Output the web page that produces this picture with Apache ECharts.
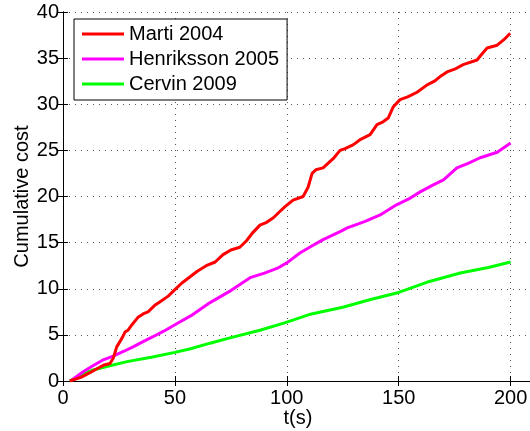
<!DOCTYPE html>
<html>
<head>
<meta charset="utf-8">
<script src="https://cdn.jsdelivr.net/npm/echarts@6/dist/echarts.min.js"></script>
<style>
  html, body { margin: 0; padding: 0; background: #fff; }
  #chart { width: 530px; height: 431px; }
</style>
</head>
<body>
<div id="chart"></div>
<script>
// Cumulative cost over time for three scheduling approaches
const seriesNames = ['Marti 2004', 'Henriksson 2005', 'Cervin 2009'];

const martiTime = [3, 8, 12, 15, 18, 21, 22.5, 24, 26.5, 27.7, 29, 30.8, 33.5, 36, 38, 41, 43.4, 47, 50, 53, 56.8, 60, 64, 68, 71.5, 75, 79, 82, 84.5, 88, 91, 94, 97, 99.2, 102.8, 107.3, 109.5, 111.3, 113, 116.2, 120.7, 123.8, 126, 129.6, 133, 137.2, 140.3, 143, 145.3, 147.5, 150.6, 154, 158.2, 162.7, 166, 168.5, 171.6, 175, 178.8, 185, 187, 189.5, 194, 197, 199.8];
const martiCost = [0, 0.4, 0.9, 1.3, 1.7, 1.9, 2.5, 3.7, 4.7, 5.3, 5.5, 6.1, 6.9, 7.3, 7.5, 8.2, 8.6, 9.2, 9.9, 10.6, 11.3, 11.9, 12.5, 12.9, 13.7, 14.2, 14.5, 15.2, 16.0, 16.9, 17.2, 17.7, 18.4, 18.9, 19.6, 20.0, 21.0, 22.5, 22.9, 23.1, 24.1, 25.0, 25.2, 25.6, 26.2, 26.7, 27.8, 28.1, 28.5, 29.7, 30.5, 30.8, 31.3, 32.1, 32.5, 33.0, 33.5, 33.8, 34.3, 34.8, 35.4, 36.1, 36.4, 37.0, 37.7];

const henrikssonTime = [4, 9, 13, 18, 22.4, 27, 31.3, 36, 40.2, 45, 50, 58, 65.7, 75, 83.6, 90, 95.6, 100, 106, 111, 116, 123.8, 127, 135, 141.7, 149, 155, 159.6, 165, 170, 176, 181, 186.4, 194, 200];
const henrikssonCost = [0.1, 1.0, 1.6, 2.3, 2.7, 3.2, 3.7, 4.3, 4.8, 5.4, 6.1, 7.2, 8.5, 9.8, 11.2, 11.7, 12.2, 12.8, 13.9, 14.6, 15.3, 16.2, 16.6, 17.3, 18.0, 19.1, 19.8, 20.5, 21.2, 21.8, 23.1, 23.6, 24.2, 24.8, 25.8];

const cervinTime = [3, 7.6, 13.4, 20, 28.6, 40, 50, 57, 65.7, 75, 88, 99, 110, 125, 137, 150, 162.5, 177.5, 190, 200];
const cervinCost = [0, 0.6, 1.2, 1.6, 2.1, 2.6, 3.1, 3.5, 4.1, 4.7, 5.5, 6.3, 7.2, 8.0, 8.8, 9.6, 10.7, 11.7, 12.3, 12.9];

const xTicks = [0, 50, 100, 150, 200];
const yTicks = [0, 5, 10, 15, 20, 25, 30, 35, 40];

const colors = ['#ff0000', '#ff00ff', '#00ff00'];
const FONT = '"Liberation Sans", Arial, Helvetica, sans-serif';

function pairs(xs, ys) {
  return xs.map((x, i) => [x, ys[i]]);
}

const chart = echarts.init(document.getElementById('chart'), null, { renderer: 'canvas' });

const dotted = { show: true, lineStyle: { color: '#555', width: 1, type: [1, 5] } };
const tickIn = { show: true, inside: true, length: 5, lineStyle: { color: '#000', width: 1 } };
const axisLine = { show: true, lineStyle: { color: '#000', width: 1 } };

chart.setOption({
  backgroundColor: '#fff',
  animation: false,
  grid: { left: 63, top: 12, right: -3, bottom: 50, containLabel: false, outerBoundsMode: 'none' },
  legend: {
    data: seriesNames,
    orient: 'vertical',
    left: 74,
    top: 19,
    padding: [5, 8, 6, 8],
    itemGap: 5,
    itemWidth: 42,
    itemHeight: 3,
    icon: 'rect',
    backgroundColor: '#fff',
    borderColor: '#000',
    borderWidth: 1,
    borderRadius: 0,
    textStyle: { fontFamily: FONT, fontSize: 20, color: '#000', padding: [0, 0, 0, 0], lineHeight: 20 }
  },
  xAxis: [
    {
      type: 'value',
      min: xTicks[0],
      max: 210,
      interval: xTicks[1] - xTicks[0],
      position: 'bottom',
      name: 't(s)',
      nameLocation: 'middle',
      nameGap: 27,
      nameMoveOverlap: false,
      nameTextStyle: { fontFamily: FONT, fontSize: 20, color: '#000' },
      axisLine: axisLine,
      axisTick: tickIn,
      splitLine: dotted,
      axisLabel: {
        margin: 7, fontFamily: FONT, fontSize: 20, color: '#000',
        showMaxLabel: false,
        formatter: v => (xTicks.indexOf(v) >= 0 ? String(v) : '')
      }
    },
    {
      type: 'value',
      min: xTicks[0],
      max: 210,
      interval: xTicks[1] - xTicks[0],
      position: 'top',
      axisLine: axisLine,
      axisTick: tickIn,
      splitLine: { show: false },
      axisLabel: { show: false }
    }
  ],
  yAxis: [
    {
      type: 'value',
      min: yTicks[0],
      max: yTicks[yTicks.length - 1],
      interval: yTicks[1] - yTicks[0],
      position: 'left',
      name: 'Cumulative cost',
      nameLocation: 'middle',
      nameGap: 31,
      nameMoveOverlap: false,
      nameTextStyle: { fontFamily: FONT, fontSize: 20, color: '#000' },
      axisLine: axisLine,
      axisTick: tickIn,
      splitLine: dotted,
      axisLabel: { margin: 4, fontFamily: FONT, fontSize: 20, color: '#000' }
    },
    {
      type: 'value',
      min: yTicks[0],
      max: yTicks[yTicks.length - 1],
      interval: yTicks[1] - yTicks[0],
      position: 'right',
      axisLine: axisLine,
      axisTick: tickIn,
      splitLine: { show: false },
      axisLabel: { show: false }
    }
  ],
  series: [
    { name: seriesNames[0], data: pairs(martiTime, martiCost) },
    { name: seriesNames[1], data: pairs(henrikssonTime, henrikssonCost) },
    { name: seriesNames[2], data: pairs(cervinTime, cervinCost) }
  ].map((s, i) => ({
    name: s.name,
    type: 'line',
    xAxisIndex: 0,
    yAxisIndex: 0,
    data: s.data,
    symbol: 'none',
    smooth: false,
    color: colors[i],
    lineStyle: { color: colors[i], width: 3 },
    z: 10 - i
  }))
});
</script>
</body>
</html>
